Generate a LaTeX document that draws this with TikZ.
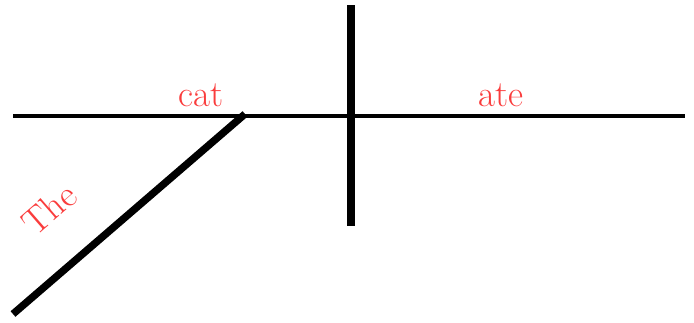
\documentclass[tikz,border=0pt]{standalone}
\usepackage{xcolor}
\usepackage{tikz}
\usetikzlibrary{positioning,calc}
\definecolor{wordred}{RGB}{250,60,60}
\tikzset{
  base/.style  ={line width=1.8pt,black},
  bar/.style   ={line width=4.2pt,black},
  word/.style  ={text=wordred,font=\fontsize{21}{25}\selectfont,inner sep=0pt},
}
\begin{document}
\begin{tikzpicture}[x=0.02cm,y=-0.02cm]
  \useasboundingbox (0,0) rectangle (694,322);
  % baseline and divider
  \coordinate (bl) at (13,116);
  \coordinate (br) at (685,116);
  \coordinate (dt) at (351,5);
  \coordinate (db) at (351,226);
  \coordinate (mt) at (245,114);
  \coordinate (mb) at (13,314);
  \draw[base] (bl) -- (br);
  \draw[bar] (dt) -- (db);
  \draw[bar] (mt) -- (mb);
  % words
  \node[word] (subj) at (201,95) {cat};
  \node[word] (verb) at (501,95) {ate};
  \node[word,rotate=41] (det) at (49,209) {The};
\end{tikzpicture}
\end{document}
